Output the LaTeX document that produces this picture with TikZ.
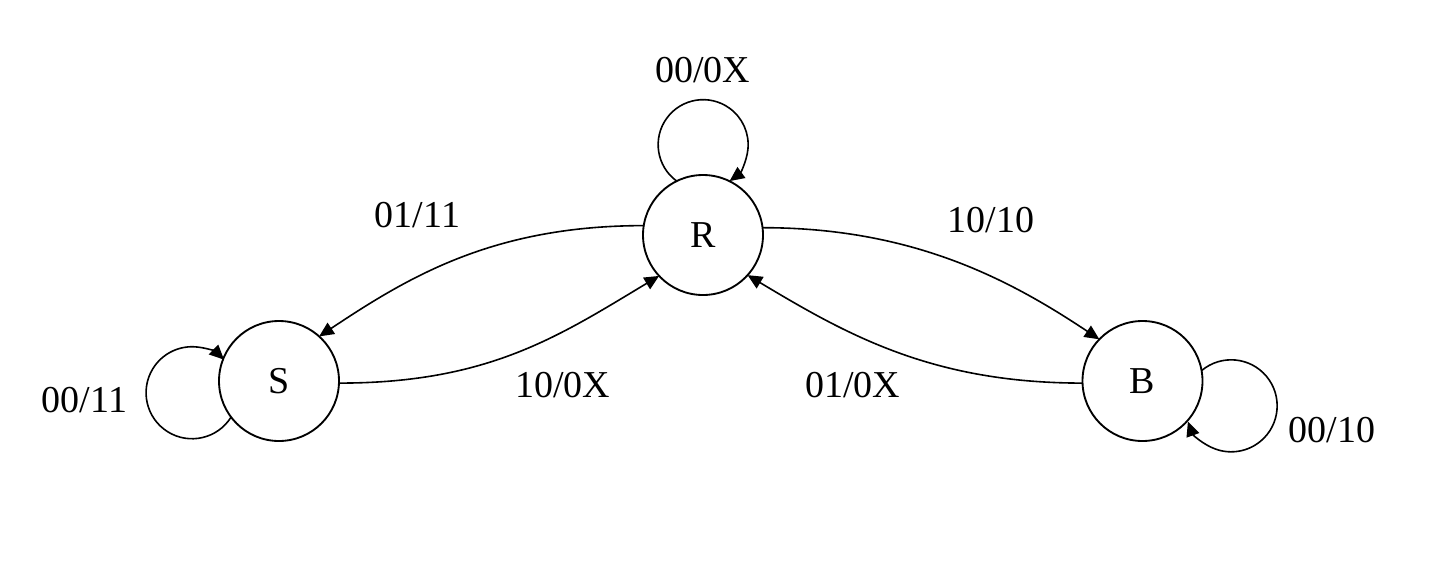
\documentclass[tikz,border=0pt]{standalone}
\usepackage{fontspec}
\setmainfont{Liberation Serif}
\usetikzlibrary{arrows.meta}

\tikzset{every picture/.style={line width=0.75pt}}
\tikzset{
  state/.style={draw, circle, line width=1.4pt, minimum size=90pt, inner sep=0pt, outer sep=0pt},
  trans/.style={line width=1.2pt, -{Triangle[length=11pt,width=10pt]}},
  lbl/.style={inner sep=0.75pt, font=\fontsize{28.5}{34}\selectfont}
}

\begin{document}
\begin{tikzpicture}[x=0.75pt,y=0.75pt,yscale=-1,xscale=1]
\useasboundingbox (0,0) rectangle (1440,572);

% States
\node [state, font=\fontsize{28.5}{34}\selectfont] (R) at (703,235) {R};
\node [state, font=\fontsize{28.5}{34}\selectfont] (S) at (279,381) {S};
\node [state, font=\fontsize{28.5}{34}\selectfont] (B) at (1142.5,381) {B};

% Self loops
\draw [trans] (R.116) arc [start angle=126, end angle=414, radius=45];
\draw [trans] (S.217) arc [start angle=32, end angle=314, radius=46];
\draw [trans] (B.10) arc [start angle=230, end angle=520, radius=46];

% Connection
\draw [trans] (R.171) .. controls +(-150,0) and +(90,-60) .. (S.48);
% Connection
\draw [trans] (S.-2) .. controls +(150,0) and +(-100,60) .. (R.223);
% Connection
\draw [trans] (R.7) .. controls +(150,0) and +(-90,-60) .. (B.136);
% Connection
\draw [trans] (B.182) .. controls +(-150,0) and +(100,60) .. (R.318);

% Text Node
\node [lbl] (lRR) at (702.5,70) {00/0X};
\node [lbl] (lRS) at (417.5,215) {01/11};
\node [lbl] (lRB) at (991,220) {10/10};
\node [lbl] (lSR) at (562.5,385) {10/0X};
\node [lbl] (lBR) at (852.5,385) {01/0X};
\node [lbl] (lSS) at (84.5,400) {00/11};
\node [lbl] (lBB) at (1332,430) {00/10};

\end{tikzpicture}
\end{document}
